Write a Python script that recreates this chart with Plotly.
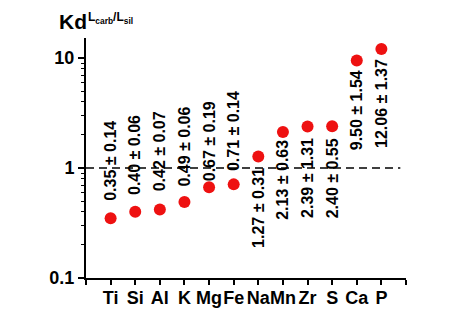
import numpy as np
import plotly.graph_objects as go

elements = ["Ti", "Si", "Al", "K", "Mg", "Fe", "Na", "Mn", "Zr", "S", "Ca", "P"]
kd_values = [0.35, 0.40, 0.42, 0.49, 0.67, 0.71, 1.27, 2.13, 2.39, 2.40, 9.50, 12.06]
kd_errors = [0.14, 0.06, 0.07, 0.06, 0.19, 0.14, 0.31, 0.63, 1.31, 0.55, 1.54, 1.37]

# label placement (style): side and pixel gap from the point centre
label_side = ["above"] * 6 + ["below"] * 6
label_gap = [16, 16, 17, 15, 5, 12, 10, 7, 11, 11, 9, 9]

FONT = "Liberation Sans, Arial, sans-serif"
xpos = list(range(1, len(elements) + 1))

fig = go.Figure()

# reference line at Kd = 1
fig.add_trace(go.Scatter(
    x=[0, len(elements) + 0.77], y=[1, 1], mode="lines",
    line=dict(color="black", width=1.5, dash="8px,5px"),
    hoverinfo="skip", showlegend=False, cliponaxis=False))

fig.add_trace(go.Scatter(
    x=xpos, y=kd_values, mode="markers",
    marker=dict(color="#ee1111", size=12, line=dict(width=0)),
    showlegend=False, cliponaxis=False))

for xi, v, e, side, gap in zip(xpos, kd_values, kd_errors, label_side, label_gap):
    above = side == "above"
    fig.add_annotation(
        x=xi, y=np.log10(v), xref="x", yref="y",
        text=f"{v:.2f} ± {e:.2f}", textangle=-90, showarrow=False,
        xanchor="center", yanchor="bottom" if above else "top",
        yshift=gap if above else -gap,
        font=dict(family=FONT, size=16, color="black", weight="bold"),
        borderpad=0)

# axis title
fig.add_annotation(
    x=-0.092, y=1.067, xref="paper", yref="paper", xanchor="left", yanchor="middle",
    text="<b>Kd</b>", showarrow=False,
    font=dict(family=FONT, size=21, color="black"))
fig.add_annotation(
    x=-0.001, y=1.085, xref="paper", yref="paper", xanchor="left", yanchor="middle",
    text="<b>L<sub>carb</sub>/L<sub>sil</sub></b>", showarrow=False,
    font=dict(family=FONT, size=12, color="black"))

fig.update_xaxes(
    range=[0, len(elements) + 1],
    tickmode="array", tickvals=xpos, ticktext=elements, tickangle=0,
    ticks="outside", ticklen=5, tickwidth=1.5, tickcolor="black",
    ticklabelstandoff=-3,
    minor=dict(tickmode="array", tickvals=[0, len(elements) + 1], ticks="outside",
               ticklen=5, tickwidth=1.5, tickcolor="black", showgrid=False),
    showline=True, linecolor="black", linewidth=2, showgrid=False, zeroline=False,
    tickfont=dict(family=FONT, size=18, color="black", weight="bold"))

minor_vals = [m * 10.0 ** d for d in (-1, 0) for m in range(2, 10)]
fig.update_yaxes(
    type="log", range=[-1, 1.182],
    tickmode="array", tickvals=[0.1, 1, 10], ticktext=["0.1", "1", "10"],
    ticks="outside", ticklen=6, tickwidth=1.5, tickcolor="black",
    minor=dict(tickmode="array", tickvals=minor_vals, ticks="outside",
               ticklen=3, tickwidth=1.2, tickcolor="black", showgrid=False),
    showline=True, linecolor="black", linewidth=2, showgrid=False, zeroline=False,
    tickfont=dict(family=FONT, size=18, color="black", weight="bold"))

fig.update_layout(
    width=472, height=334,
    margin=dict(l=86, r=66, t=38, b=56),
    paper_bgcolor="white", plot_bgcolor="white",
    showlegend=False)

fig.write_html("out.html")
